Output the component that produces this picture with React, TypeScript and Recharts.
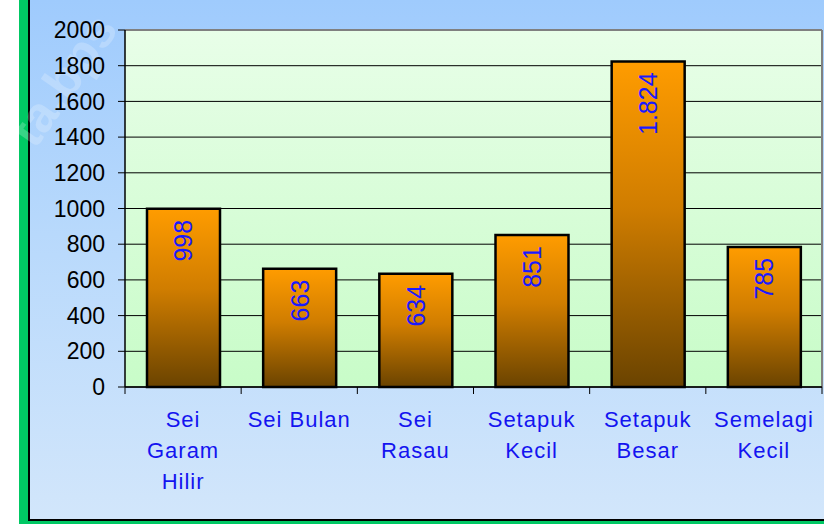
import React from "react";
import { BarChart, Bar, XAxis, YAxis, CartesianGrid, LabelList } from "recharts";

const categories = ["Sei\nGaram\nHilir", "Sei Bulan", "Sei\nRasau", "Setapuk\nKecil", "Setapuk\nBesar", "Semelagi\nKecil"];
const values = [998, 663, 634, 851, 1824, 785];
const valueLabels = ["998", "663", "634", "851", "1.824", "785"];
const yTicks = [0, 200, 400, 600, 800, 1000, 1200, 1400, 1600, 1800, 2000];

const data = categories.map((c, i) => ({ name: c, value: values[i] }));

const FONT = '"Liberation Sans", Arial, sans-serif';

const XTick = (props: any) => {
  const { x, y, payload, index } = props;
  const half = payload && payload.offset ? payload.offset : 58;
  const lines = String(payload.value).split("\n");
  return (
    <g>
      <line x1={x - half} x2={x - half} y1={y} y2={y + 7} stroke="#000" strokeWidth={1} />
      {index === categories.length - 1 && (
        <line x1={x + half} x2={x + half} y1={y} y2={y + 7} stroke="#000" strokeWidth={1} />
      )}
      <text x={x} y={y} textAnchor="middle" fill="#1414f0" fontSize={22} fontFamily={FONT} letterSpacing={1}>
        {lines.map((l, i) => (
          <tspan key={i} x={x} y={y + 40 + i * 31}>
            {l}
          </tspan>
        ))}
      </text>
    </g>
  );
};

const BarLabel = (props: any) => {
  const { x, y, width, index } = props;
  const cx = x + width / 2;
  const fs = 25;
  const ax = cx + fs * 0.36;
  const ay = y + 11;
  return (
    <text
      x={ax}
      y={ay}
      transform={`rotate(-90 ${ax} ${ay})`}
      textAnchor="end"
      fill="#1a1aff"
      fontSize={fs}
      fontFamily={FONT}
    >
      {valueLabels[index]}
    </text>
  );
};

export default function App() {
  return (
    <div style={{ position: "absolute", left: 0, top: 0, width: 824, height: 524, background: "#fff", overflow: "hidden" }}>
      <div style={{ position: "absolute", left: 19, top: 0, width: 805, height: 524, background: "#00c864" }} />
      <div style={{ position: "absolute", left: 28, top: 0, width: 796, height: 521, background: "#000" }} />
      <div
        style={{
          position: "absolute",
          left: 30,
          top: 0,
          width: 794,
          height: 519,
          background: "linear-gradient(to bottom, #9fcbfd 0%, #b8d9fc 45%, #d2e6fb 100%)",
        }}
      />
      <svg style={{ position: "absolute", left: 0, top: 0 }} width={824} height={524}>
        <text
          x={35}
          y={150}
          transform="rotate(-55 35 150)"
          fill="#ffffff"
          fillOpacity={0.22}
          fontSize={50}
          fontWeight="bold"
          fontFamily={FONT}
        >
          ta.bps
        </text>
      </svg>
      <div style={{ position: "absolute", left: 0, top: 0 }}>
        <BarChart
          width={824}
          height={524}
          data={data}
          margin={{ top: 30, right: 2, bottom: 0, left: 0 }}
          style={{ fontFamily: FONT }}
        >
          <defs>
            <linearGradient id="plotBg" x1="0" y1="0" x2="0" y2="1">
              <stop offset="0%" stopColor="#e8fee8" />
              <stop offset="100%" stopColor="#c8fcc8" />
            </linearGradient>
            <linearGradient id="barGrad" x1="0" y1="0" x2="0" y2="1">
              <stop offset="0%" stopColor="#ff9c00" />
              <stop offset="45%" stopColor="#d07d00" />
              <stop offset="100%" stopColor="#6a4300" />
            </linearGradient>
          </defs>
          <CartesianGrid
            vertical={false}
            stroke="#000"
            strokeWidth={1}
            fill="url(#plotBg)"
            fillOpacity={1}
          />
          <CartesianGrid
            horizontalCoordinatesGenerator={({ offset }: any) => [offset.top]}
            verticalCoordinatesGenerator={({ offset }: any) => [offset.left + offset.width]}
            stroke="#808080"
            strokeWidth={2}
          />
          <XAxis
            dataKey="name"
            interval={0}
            tickLine={false}
            tickSize={0}
            tickMargin={0}
            axisLine={{ stroke: "#000", strokeWidth: 1.5 }}
            tick={<XTick />}
            height={137}
          />
          <YAxis
            width={125}
            domain={[0, 2000]}
            ticks={yTicks}
            interval={0}
            tickSize={7}
            tickMargin={13}
            axisLine={{ stroke: "#000", strokeWidth: 1.5 }}
            tickLine={{ stroke: "#000", strokeWidth: 1 }}
            tick={{ fill: "#000", fontSize: 23, fontFamily: FONT }}
          />
          <Bar dataKey="value" barSize={73} fill="url(#barGrad)" stroke="#000" strokeWidth={2.5} isAnimationActive={false}>
            <LabelList dataKey="value" content={<BarLabel />} />
          </Bar>
        </BarChart>
      </div>
    </div>
  );
}
